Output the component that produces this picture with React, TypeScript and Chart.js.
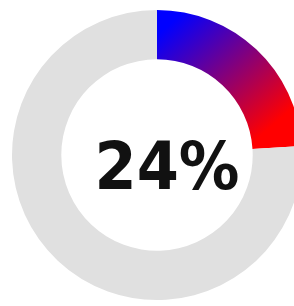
import React, { useEffect, useRef } from "react";
import { Chart, registerables } from "chart.js";

Chart.register(...registerables);

const categories = ["Done", "Remaining"];
const values = [24, 76];
const centerLabel = "24%";

export default function App() {
  const ref = useRef<HTMLCanvasElement | null>(null);
  useEffect(() => {
    document.documentElement.style.overflow = "hidden";
    document.body.style.overflow = "hidden";
    document.body.style.margin = "0";
    if (!ref.current) return;
    const centerText = {
      id: "centerText",
      afterDraw(chart: any) {
        const meta = chart.getDatasetMeta(0);
        const arc = meta.data[0];
        if (!arc) return;
        const { x, y } = arc;
        const ctx = chart.ctx;
        ctx.save();
        ctx.font = "bold 65px 'DejaVu Sans'";
        ctx.fillStyle = "#111111";
        ctx.textAlign = "center";
        ctx.textBaseline = "middle";
        const w = ctx.measureText(centerLabel).width;
        const sx = 145 / w;
        ctx.translate(x + 10, y + 17);
        ctx.scale(Math.min(1, sx), 1);
        ctx.fillText(centerLabel, 0, 0);
        ctx.restore();
      },
    };
    const chart = new Chart(ref.current, {
      type: "doughnut",
      data: {
        labels: categories,
        datasets: [
          {
            data: values,
            backgroundColor: (c: any) => {
              const ch = c.chart;
              const meta = ch.getDatasetMeta(0);
              const arc = meta.data[0] as any;
              if (c.dataIndex === 1) return "#e0e0e0";
              if (!arc || !arc.outerRadius) return "#0000ff";
              const { x, y, outerRadius } = arc;
              const r = outerRadius;
              const g = ch.ctx.createLinearGradient(x + r * 0.2, y - r, x + r * 0.85, y - r * 0.25);
              g.addColorStop(0, "#0000ff");
              g.addColorStop(1, "#ff0000");
              return g;
            },
            borderWidth: 0,
          },
        ],
      },
      options: {
        animation: false,
        responsive: false,
        cutout: "66%",
        layout: { padding: 2 },
        plugins: { legend: { display: false }, tooltip: { enabled: false } },
      },
      plugins: [centerText],
    });
    chart.update();
    return () => chart.destroy();
  }, []);
  return (
    <div style={{ width: 294, height: 306, overflow: "hidden", position: "relative" }}>
      <canvas
        ref={ref}
        width={298}
        height={294}
        style={{ display: "block", position: "absolute", left: 8, top: 8 }}
      />
    </div>
  );
}
